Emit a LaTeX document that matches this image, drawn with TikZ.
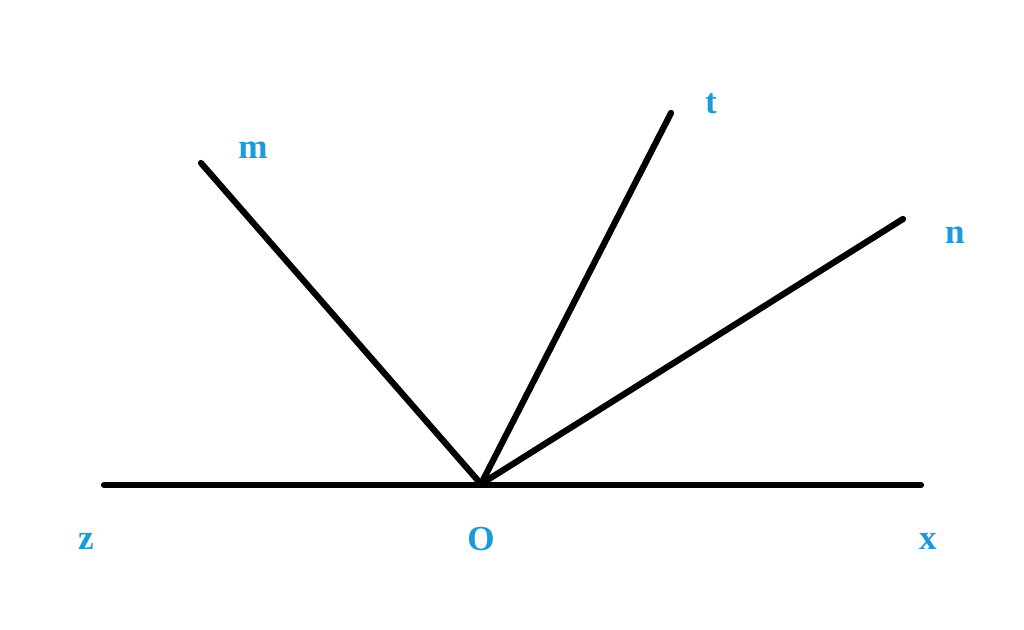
\documentclass[tikz,border=0pt]{standalone}
\usepackage{fontspec}
\setmainfont{Liberation Serif}
\definecolor{lbl}{RGB}{28,154,220}
\begin{document}
\begin{tikzpicture}[x=0.02cm,y=-0.02cm,
  ray/.style={line width=0.125cm,line cap=round},
  lab/.style={text=lbl,font=\fontsize{20}{20}\selectfont\bfseries,inner sep=0pt}]
\useasboundingbox (0,0) rectangle (1024,629);
\coordinate (O) at (481,484);
\coordinate (Z) at (104,485);
\coordinate (X) at (921,485);
\coordinate (M) at (201,163);
\coordinate (T) at (671,113);
\coordinate (N) at (903,219);
\draw[ray] (Z) -- (X);
\draw[ray] (O) -- (M);
\draw[ray] (O) -- (T);
\draw[ray] (O) -- (N);
\node[lab] (lm) at (253,150) {m};
\node[lab] (lt) at (711,104) {t};
\node[lab] (ln) at (955,235) {n};
\node[lab] (lz) at (86,541) {z};
\node[lab] (lo) at (481,539) {O};
\node[lab] (lx) at (928,541) {x};
\end{tikzpicture}
\end{document}
